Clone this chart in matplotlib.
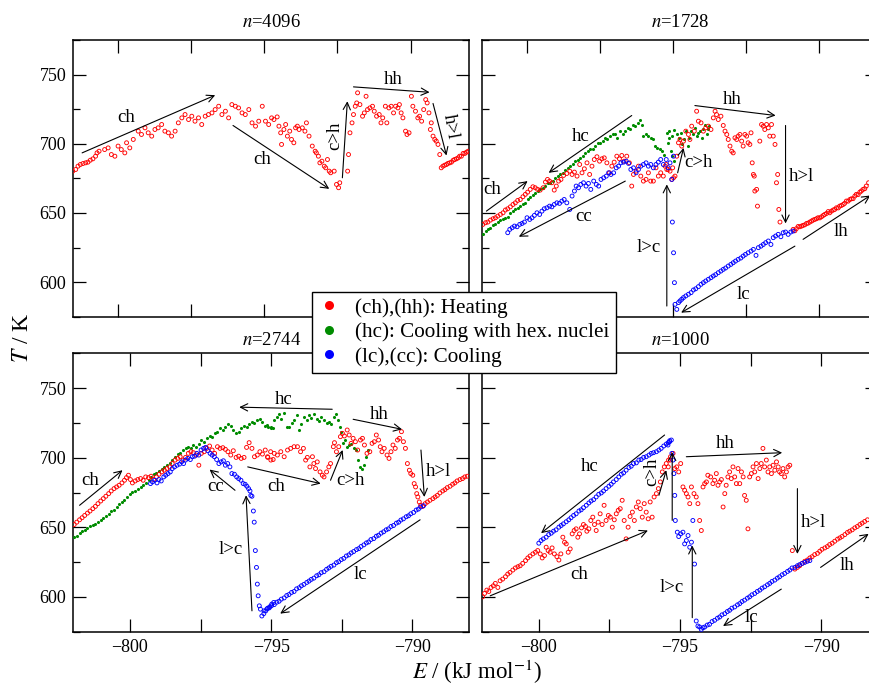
import numpy as np
import matplotlib
matplotlib.use("Agg")
import matplotlib.pyplot as plt
from matplotlib.lines import Line2D
from matplotlib.ticker import MultipleLocator, FuncFormatter

plt.rcParams["font.family"] = ["Liberation Serif", "DejaVu Serif"]
plt.rcParams["mathtext.fontset"] = "stix"
plt.rcParams["axes.linewidth"] = 1.1

RED, GREEN, BLUE = "#ff0000", "#008c00", "#0000ff"

# ---- n = 4096 : heating only (E in kJ/mol, T in K) ----
heat_4096 = [
    (-801.55, 680.2), (-801.45, 681.4), (-801.37, 683.8), (-801.29, 685.0), (-801.20, 685.7),
    (-801.11, 686.2), (-801.03, 686.7), (-800.95, 688.1), (-800.86, 689.1), (-800.77, 691.0),
    (-800.72, 693.4), (-800.65, 694.6), (-800.46, 695.8), (-800.34, 697.0), (-800.23, 692.2),
    (-800.11, 691.0), (-800.00, 698.3), (-799.89, 695.8), (-799.77, 693.4), (-799.71, 700.7),
    (-799.60, 697.0), (-799.48, 703.1), (-799.31, 709.1), (-799.20, 706.7), (-799.08, 711.5),
    (-798.97, 707.9), (-798.85, 705.5), (-798.74, 710.3), (-798.63, 711.5), (-798.51, 713.9),
    (-798.40, 709.1), (-798.28, 707.9), (-798.17, 705.5), (-798.05, 709.1), (-797.94, 715.1),
    (-797.82, 718.7), (-797.71, 721.1), (-797.59, 717.5), (-797.48, 719.9), (-797.37, 716.3),
    (-797.25, 718.7), (-797.14, 713.9), (-797.02, 719.9), (-796.91, 721.1), (-796.79, 722.3),
    (-796.68, 724.7), (-796.56, 727.1), (-796.45, 721.1), (-796.33, 723.5), (-796.22, 718.7),
    (-796.11, 728.3), (-795.99, 727.1), (-795.88, 725.9), (-795.76, 722.3), (-795.65, 721.1),
    (-795.53, 724.7), (-795.42, 715.1), (-795.30, 712.7), (-795.19, 716.3), (-795.07, 727.1),
    (-794.96, 716.3), (-794.85, 713.9), (-794.75, 718.7), (-794.67, 717.5), (-794.56, 719.4),
    (-794.50, 712.7), (-794.44, 707.9), (-794.41, 699.5), (-794.33, 710.3), (-794.27, 713.9),
    (-794.21, 705.5), (-794.13, 709.1), (-794.07, 703.1), (-793.99, 700.7), (-793.93, 711.5),
    (-793.87, 712.7), (-793.81, 710.3), (-793.70, 711.5), (-793.61, 709.1), (-793.56, 715.1),
    (-793.47, 705.5), (-793.36, 698.3), (-793.26, 694.6), (-793.22, 693.4), (-793.15, 691.0),
    (-793.10, 686.2), (-793.03, 687.4), (-792.95, 683.8), (-792.90, 682.6), (-792.84, 688.6),
    (-792.78, 680.2), (-792.73, 679.0), (-792.61, 680.2), (-792.53, 670.6), (-792.46, 668.2),
    (-792.42, 671.8), (-792.15, 680.2), (-792.12, 692.2), (-792.07, 707.9), (-792.00, 715.1),
    (-791.95, 721.1), (-791.89, 727.1), (-791.84, 729.5), (-791.81, 736.8), (-791.73, 728.3),
    (-791.64, 719.9), (-791.58, 722.3), (-791.52, 734.3), (-791.47, 724.7), (-791.39, 725.9),
    (-791.30, 727.1), (-791.24, 723.5), (-791.16, 719.9), (-791.07, 721.1), (-791.01, 715.1),
    (-790.95, 718.7), (-790.86, 727.1), (-790.81, 715.1), (-790.74, 725.9), (-790.66, 727.1),
    (-790.58, 722.3), (-790.51, 727.1), (-790.43, 725.9), (-790.38, 728.3), (-790.32, 722.3),
    (-790.26, 718.7), (-790.17, 709.1), (-790.12, 706.7), (-790.05, 707.9), (-789.97, 734.3),
    (-789.92, 727.1), (-789.83, 723.5), (-789.75, 718.7), (-789.69, 719.9), (-789.62, 716.3),
    (-789.55, 724.7), (-789.48, 731.9), (-789.43, 729.5), (-789.37, 722.3), (-789.32, 710.3),
    (-789.29, 715.1), (-789.23, 705.5), (-789.17, 703.1), (-789.12, 701.9), (-789.06, 699.5),
    (-789.00, 692.2), (-788.95, 682.6), (-788.89, 683.8), (-788.83, 684.5), (-788.77, 685.0),
    (-788.72, 685.8), (-788.66, 686.2), (-788.60, 686.7), (-788.54, 688.1), (-788.49, 688.6),
    (-788.43, 689.1), (-788.37, 689.8), (-788.32, 691.0), (-788.26, 691.0), (-788.20, 693.0),
    (-788.14, 693.0), (-788.09, 693.9), (-788.03, 694.6),
]

# ---- n = 1728 ----
heat_1728 = [
    (-801.51, 641.7), (-801.42, 642.9), (-801.34, 643.4), (-801.25, 644.8), (-801.16, 645.8),
    (-801.08, 646.5), (-801.00, 647.7), (-800.91, 648.9), (-800.82, 650.1), (-800.74, 652.1),
    (-800.66, 653.0), (-800.57, 654.4), (-800.48, 656.1), (-800.40, 657.3), (-800.32, 659.0),
    (-800.23, 659.7), (-800.14, 661.7), (-800.06, 663.4), (-799.98, 665.0), (-799.89, 667.0),
    (-799.80, 668.9), (-799.72, 668.2), (-799.64, 667.0), (-799.55, 666.5), (-799.45, 668.2),
    (-799.37, 672.3), (-799.30, 674.2), (-799.23, 673.0), (-799.15, 671.8), (-799.07, 666.5),
    (-799.00, 669.4), (-798.92, 673.0), (-798.84, 674.2), (-798.75, 677.1), (-798.64, 678.5),
    (-798.54, 680.2), (-798.46, 677.8), (-798.38, 679.5), (-798.29, 676.6), (-798.20, 685.0),
    (-798.12, 679.0), (-798.04, 681.9), (-797.95, 686.2), (-797.86, 677.8), (-797.78, 683.8),
    (-797.70, 688.6), (-797.61, 690.6), (-797.52, 687.4), (-797.44, 689.1), (-797.36, 689.8),
    (-797.27, 686.2), (-797.18, 679.0), (-797.10, 683.8), (-797.02, 686.7), (-796.93, 691.0),
    (-796.84, 689.1), (-796.76, 691.5), (-796.68, 687.4), (-796.59, 691.0), (-796.50, 686.2),
    (-796.42, 669.4), (-796.36, 677.8), (-796.27, 680.2), (-796.19, 683.8), (-796.11, 676.6),
    (-796.02, 673.0), (-795.93, 674.2), (-795.85, 679.0), (-795.77, 673.0), (-795.68, 673.0),
    (-795.59, 682.6), (-795.51, 676.6), (-795.43, 679.0), (-795.34, 676.6), (-795.24, 685.0),
    (-795.17, 681.4), (-795.11, 680.2), (-795.02, 682.6), (-795.28, 683.8), (-795.22, 681.4),
    (-795.05, 674.2), (-794.99, 675.4), (-794.94, 676.6), (-794.88, 691.0), (-794.82, 700.7),
    (-794.77, 703.1), (-794.71, 698.3), (-794.65, 701.9), (-794.57, 709.1), (-794.48, 706.7),
    (-794.43, 703.1), (-794.37, 712.7), (-794.28, 709.1), (-794.20, 723.5), (-794.14, 716.3),
    (-794.05, 715.1), (-793.97, 709.1), (-793.89, 711.5), (-793.80, 712.7), (-793.71, 710.3),
    (-793.63, 718.7), (-793.57, 723.5), (-793.52, 721.1), (-793.46, 717.5), (-793.37, 719.9),
    (-793.29, 713.2), (-793.23, 709.1), (-793.17, 706.7), (-793.12, 703.1), (-793.06, 698.3),
    (-793.00, 694.6), (-792.95, 693.4), (-792.89, 704.3), (-792.83, 703.1), (-792.78, 705.5),
    (-792.72, 706.7), (-792.66, 701.9), (-792.61, 698.3), (-792.55, 706.7), (-792.49, 705.5),
    (-792.44, 700.7), (-792.38, 699.5), (-792.34, 707.9), (-792.30, 686.2), (-792.26, 677.8),
    (-792.23, 676.6), (-792.21, 665.8), (-792.15, 667.0), (-792.12, 654.9), (-792.04, 701.9),
    (-791.98, 713.9), (-791.92, 712.7), (-791.87, 710.3), (-791.81, 713.9), (-791.75, 711.5),
    (-791.70, 705.5), (-791.64, 713.9), (-791.58, 705.5), (-791.52, 699.5), (-791.47, 671.8),
    (-791.43, 677.8), (-791.39, 652.5), (-791.35, 643.4),
    (-790.90, 638.1), (-790.84, 637.1), (-790.79, 638.6), (-790.73, 640.2), (-790.67, 640.0),
    (-790.61, 640.5), (-790.56, 641.0), (-790.50, 641.4), (-790.44, 642.4), (-790.39, 642.6),
    (-790.33, 643.4), (-790.27, 644.1), (-790.22, 644.8), (-790.16, 645.3), (-790.10, 645.8),
    (-790.05, 646.5), (-789.99, 646.4), (-789.93, 647.2), (-789.87, 648.2), (-789.82, 648.9),
    (-789.76, 649.6), (-789.70, 651.0), (-789.65, 650.1), (-789.59, 651.3), (-789.53, 652.1),
    (-789.48, 652.5), (-789.42, 653.7), (-789.36, 653.6), (-789.31, 654.9), (-789.25, 655.4),
    (-789.19, 656.1), (-789.14, 656.9), (-789.08, 658.6), (-789.02, 658.5), (-788.96, 659.7),
    (-788.91, 660.2), (-788.85, 660.3), (-788.79, 662.2), (-788.74, 663.4), (-788.68, 663.2),
    (-788.62, 665.0), (-788.57, 665.8), (-788.51, 667.0), (-788.45, 667.5), (-788.40, 669.4),
    (-788.32, 671.8),
]

hexcool_1728 = [
    (-801.51, 634.5), (-801.42, 636.9), (-801.34, 638.1), (-801.25, 639.3), (-801.16, 641.0),
    (-801.08, 641.7), (-801.00, 643.4), (-800.91, 644.8), (-800.82, 645.3), (-800.74, 646.5),
    (-800.66, 647.2), (-800.57, 650.1), (-800.48, 651.3), (-800.40, 652.5), (-800.32, 653.7),
    (-800.23, 654.9), (-800.14, 656.1), (-800.06, 657.3), (-799.98, 659.7), (-799.89, 661.7),
    (-799.80, 662.6), (-799.72, 664.6), (-799.64, 665.8), (-799.55, 667.0), (-799.45, 668.2),
    (-799.37, 669.4), (-799.30, 671.3), (-799.20, 671.8), (-799.11, 673.0), (-799.03, 675.4),
    (-798.95, 676.6), (-798.86, 677.8), (-798.77, 679.0), (-798.69, 680.9), (-798.61, 682.6),
    (-798.52, 683.8), (-798.43, 685.0), (-798.35, 687.4), (-798.27, 688.6), (-798.18, 689.8),
    (-798.09, 691.0), (-798.01, 693.0), (-797.93, 694.6), (-797.84, 695.9), (-797.75, 696.3),
    (-797.67, 698.3), (-797.59, 700.2), (-797.50, 700.7), (-797.41, 701.9), (-797.33, 704.3),
    (-797.25, 703.1), (-797.16, 705.5), (-797.07, 707.4), (-796.99, 706.7), (-796.91, 704.3),
    (-796.81, 709.1), (-796.72, 706.7), (-796.64, 709.1), (-796.56, 711.5), (-796.47, 710.3),
    (-796.38, 713.9), (-796.30, 712.7), (-796.22, 715.1), (-796.13, 717.0), (-796.08, 713.9),
    (-796.02, 705.5), (-795.93, 706.7), (-795.85, 705.5), (-795.77, 704.3), (-795.68, 703.1),
    (-795.62, 698.3), (-795.54, 697.1), (-795.47, 695.9), (-795.39, 694.6), (-795.31, 692.2),
    (-795.22, 707.9), (-795.13, 709.1), (-795.05, 705.5), (-794.97, 709.8), (-795.19, 700.7),
    (-795.14, 704.3), (-795.07, 694.6), (-795.03, 691.0), (-794.96, 687.4), (-794.88, 706.7),
    (-794.82, 704.3), (-794.73, 707.9), (-794.69, 699.5), (-794.62, 703.1), (-794.57, 709.1),
    (-794.50, 698.3), (-794.46, 704.3), (-794.39, 709.1), (-794.31, 706.7), (-794.26, 711.5),
    (-794.20, 705.5), (-794.14, 707.9), (-794.08, 709.1), (-794.03, 704.3), (-793.97, 710.3),
    (-793.91, 713.9), (-793.86, 706.7), (-793.80, 710.3), (-793.78, 712.7),
]

cool_1728 = [
    (-800.66, 635.7), (-800.59, 638.1), (-800.51, 639.3), (-800.43, 640.5), (-800.34, 640.0),
    (-800.25, 641.7), (-800.17, 642.4), (-800.09, 643.4), (-800.00, 646.5), (-799.91, 645.3),
    (-799.83, 646.5), (-799.75, 648.2), (-799.66, 650.1), (-799.57, 648.9), (-799.49, 651.3),
    (-799.41, 653.0), (-799.32, 653.7), (-799.23, 654.9), (-799.15, 654.4), (-799.07, 656.1),
    (-798.98, 657.3), (-798.89, 656.9), (-798.81, 658.5), (-798.73, 659.7), (-798.64, 657.3),
    (-798.54, 652.5), (-798.46, 662.2), (-798.38, 665.8), (-798.32, 669.4), (-798.24, 668.2),
    (-798.16, 670.6), (-798.07, 671.8), (-797.98, 669.4), (-797.90, 671.3), (-797.82, 667.0),
    (-797.72, 673.0), (-797.63, 670.6), (-797.55, 669.4), (-797.47, 674.2), (-797.38, 675.4),
    (-797.29, 676.6), (-797.21, 679.0), (-797.13, 677.8), (-797.04, 679.0), (-796.95, 682.6),
    (-796.87, 683.8), (-796.79, 686.2), (-796.70, 686.7), (-796.61, 687.4), (-796.53, 685.8),
    (-796.45, 681.4), (-796.36, 682.6), (-796.27, 679.0), (-796.19, 681.4), (-796.11, 683.8),
    (-796.02, 685.0), (-795.93, 686.2), (-795.85, 683.8), (-795.77, 685.0), (-795.68, 682.6),
    (-795.59, 685.0), (-795.51, 686.7), (-795.43, 688.6), (-795.34, 685.0), (-795.24, 688.6),
    (-795.17, 682.6), (-795.11, 686.2), (-795.05, 674.2), (-794.99, 691.0),
    (-795.03, 643.4), (-794.99, 621.2), (-794.96, 599.6),
    (-794.94, 583.9), (-794.88, 580.3), (-794.82, 585.2), (-794.77, 586.4), (-794.71, 587.6),
    (-794.65, 588.8), (-794.57, 590.0), (-794.48, 591.2), (-794.39, 592.4), (-794.31, 594.3),
    (-794.23, 595.2), (-794.14, 596.7), (-794.05, 598.4), (-793.97, 599.6), (-793.89, 600.8),
    (-793.80, 602.0), (-793.71, 603.2), (-793.63, 604.4), (-793.55, 605.4), (-793.46, 606.8),
    (-793.37, 608.0), (-793.29, 609.2), (-793.21, 610.2), (-793.12, 611.6), (-793.03, 612.8),
    (-792.95, 614.0), (-792.87, 615.2), (-792.78, 616.4), (-792.69, 617.4), (-792.61, 618.8),
    (-792.53, 620.0), (-792.44, 621.2), (-792.34, 622.4), (-792.26, 623.6), (-792.17, 619.3),
    (-792.09, 624.9), (-792.00, 626.0), (-791.92, 627.2), (-791.84, 628.5), (-791.75, 629.7),
    (-791.66, 627.2), (-791.58, 632.1), (-791.50, 633.3), (-791.41, 634.5), (-791.32, 632.8),
    (-791.24, 635.7), (-791.16, 636.2), (-791.07, 634.5), (-790.98, 636.2), (-790.90, 636.9),
]

# ---- n = 2744 ----
heat_2744 = [
    (-801.97, 652.0), (-801.88, 653.7), (-801.78, 655.4), (-801.69, 656.9), (-801.60, 658.5),
    (-801.50, 660.2), (-801.41, 661.7), (-801.31, 663.4), (-801.22, 665.0), (-801.13, 667.0),
    (-801.03, 668.9), (-800.94, 670.6), (-800.85, 672.3), (-800.75, 674.2), (-800.66, 676.1),
    (-800.56, 677.8), (-800.47, 679.0), (-800.38, 680.2), (-800.28, 681.9), (-800.19, 683.8),
    (-800.12, 685.7), (-800.05, 687.4), (-799.98, 684.3), (-799.91, 681.9), (-799.81, 683.3),
    (-799.72, 684.3), (-799.62, 685.0), (-799.53, 683.8), (-799.44, 686.2), (-799.34, 685.7),
    (-799.25, 686.7), (-799.16, 684.3), (-799.06, 686.2), (-798.97, 688.1), (-798.87, 689.8),
    (-798.78, 691.0), (-798.69, 692.2), (-798.59, 693.4), (-798.50, 695.8), (-798.40, 698.3),
    (-798.31, 699.5), (-798.22, 700.7), (-798.12, 698.3), (-798.03, 700.2), (-797.93, 703.1),
    (-797.84, 704.3), (-797.75, 703.6), (-797.65, 701.9), (-797.56, 694.6), (-797.47, 703.1),
    (-797.37, 704.3), (-797.28, 706.7), (-797.18, 708.4), (-797.09, 705.5), (-797.00, 703.1),
    (-796.90, 707.9), (-796.81, 706.7), (-796.71, 707.2), (-796.62, 706.0), (-796.53, 704.3),
    (-796.43, 701.9), (-796.34, 705.0), (-796.24, 700.2), (-796.15, 701.1), (-796.06, 699.5),
    (-795.96, 700.2), (-795.87, 707.4), (-795.78, 710.8), (-795.68, 706.7), (-795.59, 700.7),
    (-795.49, 701.9), (-795.40, 704.3), (-795.31, 702.6), (-795.21, 705.5), (-795.12, 700.2),
    (-795.02, 704.3), (-794.93, 698.7),
    (-795.13, 700.7), (-795.01, 698.3), (-794.89, 703.1), (-794.78, 701.9), (-794.66, 704.3),
    (-794.54, 700.7), (-794.42, 705.5), (-794.31, 706.7), (-794.19, 707.9), (-794.07, 707.9),
    (-793.96, 704.3), (-793.86, 706.7), (-793.78, 698.3), (-793.72, 700.2), (-793.63, 693.4),
    (-793.54, 700.7), (-793.49, 695.8), (-793.43, 692.2), (-793.37, 697.0), (-793.27, 689.8),
    (-793.19, 687.4), (-793.13, 686.2), (-793.04, 689.8), (-792.96, 693.4), (-792.90, 695.8),
    (-792.80, 707.9), (-792.76, 710.8), (-792.69, 704.3), (-792.61, 707.9), (-792.55, 715.1),
    (-792.48, 717.5), (-792.41, 715.6), (-792.31, 719.9), (-792.24, 716.3), (-792.17, 710.3),
    (-792.10, 713.9), (-792.02, 711.5), (-791.94, 705.5), (-791.84, 712.7), (-791.77, 713.9),
    (-791.70, 709.1), (-791.61, 703.1), (-791.51, 704.3), (-791.43, 710.3), (-791.35, 711.5),
    (-791.28, 716.3), (-791.20, 712.7), (-791.14, 707.9), (-791.08, 704.3), (-791.00, 706.7),
    (-790.90, 701.9), (-790.83, 699.5), (-790.76, 704.3), (-790.69, 709.1), (-790.61, 706.7),
    (-790.53, 712.7), (-790.46, 713.9), (-790.39, 718.7), (-790.32, 711.5), (-790.25, 706.7),
    (-790.18, 695.8), (-790.11, 691.0), (-790.06, 688.6), (-789.99, 687.4), (-789.94, 681.4),
    (-789.89, 679.0), (-789.85, 674.2), (-789.81, 671.8), (-789.76, 668.2), (-789.71, 665.8),
    (-789.64, 665.0), (-789.55, 667.0), (-789.47, 668.2), (-789.38, 669.4), (-789.28, 670.6),
    (-789.20, 671.8), (-789.12, 672.9), (-789.03, 674.7), (-788.93, 676.1), (-788.85, 677.1),
    (-788.77, 678.5), (-788.67, 679.5), (-788.58, 680.9), (-788.50, 681.9), (-788.42, 683.3),
    (-788.32, 684.3), (-788.23, 685.0), (-788.15, 686.2), (-788.06, 686.7),
]

hexcool_2744 = [
    (-801.97, 642.9), (-801.88, 644.1), (-801.78, 645.8), (-801.69, 647.2), (-801.60, 648.2),
    (-801.50, 649.6), (-801.41, 650.6), (-801.31, 652.0), (-801.22, 652.5), (-801.13, 653.7),
    (-801.03, 655.4), (-800.94, 656.9), (-800.85, 657.8), (-800.75, 659.7), (-800.66, 661.7),
    (-800.56, 662.6), (-800.47, 664.6), (-800.38, 666.5), (-800.28, 668.2), (-800.19, 669.9),
    (-800.09, 671.8), (-800.00, 673.7), (-799.91, 675.4), (-799.81, 676.1), (-799.72, 677.8),
    (-799.62, 679.0), (-799.53, 680.2), (-799.44, 681.9), (-799.34, 683.8), (-799.25, 686.2),
    (-799.16, 688.1), (-799.06, 689.1), (-798.97, 690.6), (-798.87, 692.2), (-798.78, 693.4),
    (-798.69, 694.6), (-798.59, 696.3), (-798.50, 698.3), (-798.40, 700.7), (-798.31, 702.6),
    (-798.22, 703.6), (-798.12, 705.5), (-798.03, 706.7), (-797.93, 707.9), (-797.84, 706.7),
    (-797.75, 709.1), (-797.65, 707.4), (-797.56, 709.8), (-797.47, 712.7), (-797.37, 711.5),
    (-797.28, 713.9), (-797.18, 715.6), (-797.09, 714.6), (-797.00, 717.5), (-796.90, 718.7),
    (-796.81, 721.1), (-796.71, 719.9), (-796.62, 722.3), (-796.53, 724.2), (-796.43, 722.8),
    (-796.34, 719.9), (-796.24, 717.5), (-796.15, 718.7), (-796.06, 721.1), (-795.96, 722.8),
    (-795.87, 722.3), (-795.78, 724.2), (-795.68, 725.9), (-795.59, 724.7), (-795.49, 727.1),
    (-795.40, 727.6), (-795.31, 725.9), (-795.21, 722.8), (-795.12, 721.8), (-795.02, 722.3),
    (-794.93, 721.1),
    (-795.13, 723.5), (-795.01, 721.1), (-794.89, 727.1), (-794.80, 729.5), (-794.71, 731.5),
    (-794.64, 728.1), (-794.54, 732.0), (-794.45, 722.3), (-794.37, 721.8), (-794.28, 724.7),
    (-794.19, 727.1), (-794.10, 730.7), (-794.01, 719.9), (-793.93, 724.2), (-793.84, 729.5),
    (-793.74, 727.1), (-793.66, 730.7), (-793.58, 728.3), (-793.49, 731.5), (-793.39, 727.6),
    (-793.31, 726.7), (-793.23, 729.5), (-793.13, 727.1), (-793.04, 724.7), (-792.96, 725.9),
    (-792.88, 724.2), (-792.78, 729.5), (-792.69, 731.5), (-792.64, 727.1), (-792.57, 722.3),
    (-792.52, 718.7), (-792.45, 710.3), (-792.38, 712.7), (-792.31, 707.9), (-792.24, 709.1),
    (-792.17, 709.8), (-792.08, 706.7), (-792.01, 705.5), (-791.94, 698.7), (-791.87, 693.4),
    (-791.80, 692.2), (-791.72, 694.6), (-791.65, 700.7), (-791.58, 705.5),
]

cool_2744 = [
    (-799.27, 681.4), (-799.20, 682.6), (-799.12, 683.8), (-799.04, 681.9), (-798.97, 684.3),
    (-798.89, 683.3), (-798.80, 686.2), (-798.73, 687.4), (-798.65, 688.6), (-798.57, 689.8),
    (-798.50, 692.2), (-798.42, 693.4), (-798.33, 694.6), (-798.24, 695.4), (-798.17, 697.0),
    (-798.10, 695.8), (-798.03, 698.3), (-797.95, 699.5), (-797.86, 698.7), (-797.79, 700.7),
    (-797.71, 701.1), (-797.63, 703.1), (-797.56, 701.9), (-797.48, 705.5), (-797.39, 706.7),
    (-797.32, 707.4), (-797.24, 705.0), (-797.16, 703.1), (-797.09, 701.9), (-797.01, 700.7),
    (-796.93, 698.7), (-796.85, 695.8), (-796.77, 697.0), (-796.69, 697.8), (-796.62, 694.6),
    (-796.54, 695.8), (-796.46, 693.4), (-796.39, 688.6), (-796.30, 688.1), (-796.22, 686.2),
    (-796.15, 685.0), (-796.07, 683.8), (-795.99, 681.4), (-795.92, 680.9), (-795.86, 679.5),
    (-795.80, 677.8), (-795.75, 676.1), (-795.72, 672.9), (-795.68, 672.3), (-795.63, 661.7),
    (-795.60, 653.7), (-795.56, 633.3), (-795.52, 621.2), (-795.49, 609.2), (-795.46, 600.8),
    (-795.42, 593.6), (-795.38, 591.2), (-795.33, 586.3), (-795.26, 588.0), (-795.19, 590.0),
    (-795.12, 591.9), (-795.05, 592.9), (-794.98, 594.8), (-794.91, 596.0),
    (-795.25, 590.0), (-795.15, 591.4), (-795.07, 592.1), (-794.99, 593.6), (-794.89, 594.5),
    (-794.80, 596.2), (-794.72, 596.9), (-794.64, 598.4), (-794.54, 599.3), (-794.45, 601.0),
    (-794.37, 601.7), (-794.28, 603.2), (-794.19, 603.9), (-794.10, 605.8), (-794.01, 606.6),
    (-793.93, 608.0), (-793.84, 609.0), (-793.74, 610.4), (-793.66, 611.4), (-793.58, 612.6),
    (-793.49, 613.5), (-793.39, 615.2), (-793.31, 615.9), (-793.23, 617.4), (-793.13, 618.1),
    (-793.04, 619.8), (-792.96, 620.8), (-792.88, 622.0), (-792.78, 622.9), (-792.69, 624.6),
    (-792.61, 625.3), (-792.52, 626.8), (-792.43, 627.7), (-792.34, 629.4), (-792.25, 630.2),
    (-792.17, 631.6), (-792.08, 632.6), (-791.98, 634.0), (-791.90, 634.7), (-791.82, 636.2),
    (-791.72, 637.4), (-791.63, 638.8), (-791.55, 639.5), (-791.47, 641.2), (-791.37, 641.9),
    (-791.28, 643.6), (-791.20, 644.3), (-791.11, 645.8), (-791.02, 646.8), (-790.93, 648.2),
    (-790.85, 648.9), (-790.76, 650.6), (-790.67, 651.3), (-790.57, 653.0), (-790.49, 653.7),
    (-790.41, 655.2), (-790.32, 656.1), (-790.22, 657.6), (-790.14, 658.3), (-790.06, 659.7),
    (-789.96, 660.7), (-789.87, 662.4), (-789.79, 663.1), (-789.71, 664.6), (-789.61, 665.5),
]

# ---- n = 1000 : no hexagonal-nuclei branch ----
heat_1000 = [
    (-801.99, 600.1), (-801.92, 602.5), (-801.84, 604.9), (-801.77, 603.9), (-801.69, 606.8),
    (-801.61, 608.0), (-801.54, 609.7), (-801.45, 606.8), (-801.37, 611.6), (-801.28, 612.8),
    (-801.18, 614.5), (-801.10, 616.4), (-801.02, 617.6), (-800.92, 619.3), (-800.83, 620.8),
    (-800.74, 621.7), (-800.66, 622.4), (-800.57, 624.1), (-800.47, 626.1), (-800.39, 628.0),
    (-800.31, 629.4), (-800.21, 630.9), (-800.12, 632.1), (-800.04, 633.3), (-799.95, 630.9),
    (-799.88, 628.0), (-799.80, 629.7), (-799.74, 635.7), (-799.67, 633.3), (-799.60, 632.1),
    (-799.53, 635.2), (-799.45, 630.9), (-799.36, 628.9), (-799.29, 626.5), (-799.22, 630.9),
    (-799.15, 642.9), (-799.09, 639.3), (-799.03, 638.1), (-798.96, 632.1), (-798.89, 634.5),
    (-798.82, 645.3), (-798.75, 647.7), (-798.68, 648.9), (-798.62, 642.9), (-798.56, 645.3),
    (-798.49, 649.6), (-798.42, 652.0), (-798.35, 650.6), (-798.30, 647.2), (-798.23, 648.9),
    (-798.16, 654.9), (-798.09, 657.3), (-798.03, 652.0), (-797.97, 647.7), (-797.90, 653.7),
    (-797.83, 659.7), (-797.76, 652.0), (-797.69, 665.8), (-797.62, 654.9), (-797.54, 658.5),
    (-797.47, 657.3), (-797.40, 650.1), (-797.33, 655.4), (-797.26, 659.7), (-797.19, 662.2),
    (-797.12, 663.4), (-797.05, 669.4), (-796.98, 654.9), (-796.91, 641.7), (-796.84, 650.1),
    (-796.77, 657.8), (-796.69, 660.9), (-796.62, 654.9), (-796.55, 664.6), (-796.48, 668.2),
    (-796.41, 663.4), (-796.34, 657.3), (-796.27, 667.0), (-796.20, 660.9), (-796.13, 656.1),
    (-796.06, 668.2), (-795.99, 657.3), (-795.92, 671.8), (-795.84, 674.2), (-795.77, 677.8),
    (-795.70, 682.6), (-795.63, 689.8), (-795.56, 693.4), (-795.49, 695.8), (-795.42, 693.4),
    (-795.35, 698.3), (-795.41, 698.3), (-795.34, 700.7), (-795.25, 703.1), (-795.19, 692.2),
    (-795.12, 693.4), (-795.05, 689.8), (-794.98, 695.8), (-794.90, 679.0), (-794.84, 676.6),
    (-794.78, 674.2), (-794.72, 671.8), (-794.66, 667.0), (-794.60, 679.0), (-794.51, 674.2),
    (-794.43, 671.8), (-794.37, 667.0), (-794.31, 654.9), (-794.25, 647.7), (-794.19, 679.0),
    (-794.13, 681.4), (-794.07, 682.6), (-794.02, 687.4), (-793.92, 686.2), (-793.84, 681.4),
    (-793.78, 683.8), (-793.72, 688.6), (-793.66, 680.2), (-793.60, 682.6), (-793.54, 684.3),
    (-793.48, 664.6), (-793.42, 674.2), (-793.37, 680.2), (-793.31, 686.2), (-793.25, 689.8),
    (-793.19, 685.0), (-793.13, 693.4), (-793.07, 686.2), (-793.01, 681.4), (-792.95, 692.2),
    (-792.89, 681.4), (-792.83, 689.8), (-792.77, 686.2), (-792.72, 672.9), (-792.66, 669.4),
    (-792.60, 648.9), (-792.54, 686.2), (-792.48, 688.6), (-792.42, 693.4), (-792.36, 689.8),
    (-792.30, 695.8), (-792.24, 685.0), (-792.18, 692.2), (-792.13, 695.8), (-792.07, 706.7),
    (-792.01, 693.4), (-791.95, 698.3), (-791.89, 689.8), (-791.83, 693.4), (-791.77, 688.6),
    (-791.71, 694.6), (-791.65, 691.0), (-791.59, 697.0), (-791.53, 693.4), (-791.48, 689.8),
    (-791.42, 688.6), (-791.36, 692.2), (-791.30, 686.2), (-791.24, 689.8), (-791.18, 693.4),
    (-791.12, 694.6), (-791.03, 633.3),
    (-790.94, 620.0), (-790.85, 621.2), (-790.77, 622.4), (-790.68, 624.1), (-790.59, 625.6),
    (-790.50, 626.5), (-790.41, 628.0), (-790.33, 628.9), (-790.24, 630.4), (-790.14, 631.3),
    (-790.06, 632.8), (-789.98, 634.2), (-789.88, 635.2), (-789.79, 636.2), (-789.71, 637.6),
    (-789.62, 638.6), (-789.53, 640.0), (-789.43, 641.5), (-789.35, 642.4), (-789.27, 643.4),
    (-789.17, 644.8), (-789.08, 646.3), (-789.00, 647.2), (-788.91, 648.2), (-788.82, 649.6),
    (-788.73, 650.6), (-788.64, 652.0), (-788.56, 653.0), (-788.47, 654.2), (-788.37, 655.4),
]

cool_1000 = [
    (-800.00, 638.6), (-799.92, 640.5), (-799.84, 641.7), (-799.74, 642.9), (-799.65, 644.8),
    (-799.56, 645.8), (-799.48, 647.2), (-799.39, 648.2), (-799.29, 650.1), (-799.21, 651.3),
    (-799.13, 652.5), (-799.03, 654.0), (-798.94, 655.4), (-798.86, 656.9), (-798.77, 658.5),
    (-798.68, 659.7), (-798.58, 661.7), (-798.50, 662.6), (-798.42, 664.1), (-798.32, 665.8),
    (-798.23, 667.5), (-798.15, 668.9), (-798.06, 669.9), (-797.97, 671.8), (-797.88, 673.7),
    (-797.79, 674.7), (-797.71, 676.1), (-797.62, 677.8), (-797.52, 679.5), (-797.44, 680.9),
    (-797.36, 682.6), (-797.26, 684.3), (-797.17, 686.2), (-797.08, 688.1), (-797.00, 689.1),
    (-796.91, 691.0), (-796.81, 693.0), (-796.73, 693.9), (-796.65, 695.8), (-796.55, 696.3),
    (-796.46, 698.3), (-796.38, 698.7), (-796.29, 700.2), (-796.20, 700.7), (-796.10, 701.9),
    (-796.02, 703.1), (-795.94, 703.6), (-795.84, 704.3), (-795.75, 705.5), (-795.67, 706.7),
    (-795.58, 708.4), (-795.49, 709.8), (-795.42, 710.8), (-795.37, 712.2), (-795.43, 709.1),
    (-795.37, 711.5), (-795.31, 712.7), (-795.29, 703.1), (-795.25, 698.3), (-795.22, 688.6),
    (-795.19, 672.9), (-795.17, 654.9), (-795.10, 646.5), (-795.05, 643.4), (-794.98, 645.3),
    (-794.90, 646.5), (-794.84, 638.1), (-794.78, 640.5), (-794.72, 644.1), (-794.66, 635.7),
    (-794.60, 639.3), (-794.55, 654.9), (-794.49, 623.6), (-794.43, 582.7), (-794.37, 579.1),
    (-794.31, 578.4), (-794.25, 576.7), (-794.19, 577.9), (-794.13, 578.4),
    (-794.04, 579.8), (-793.96, 580.3), (-793.87, 582.3), (-793.78, 583.2), (-793.68, 584.7),
    (-793.60, 585.6), (-793.52, 587.1), (-793.42, 588.0), (-793.33, 589.5), (-793.25, 590.4),
    (-793.17, 591.9), (-793.07, 592.8), (-792.97, 594.3), (-792.89, 595.2), (-792.81, 596.7),
    (-792.72, 597.7), (-792.62, 599.1), (-792.54, 600.1), (-792.46, 601.5), (-792.36, 602.5),
    (-792.27, 603.9), (-792.18, 604.9), (-792.10, 606.3), (-792.01, 607.3), (-791.91, 608.7),
    (-791.83, 609.7), (-791.75, 611.1), (-791.65, 612.1), (-791.56, 613.5), (-791.48, 614.5),
    (-791.39, 615.9), (-791.30, 616.9), (-791.20, 618.3), (-791.12, 619.3), (-791.04, 620.8),
    (-790.94, 621.2), (-790.85, 622.4), (-790.77, 623.2), (-790.68, 624.1), (-790.59, 624.8),
    (-790.50, 625.6), (-790.41, 626.1),
]

# arrows (start E, start T, end E, end T) and labels (text, E, T, rotation)
arrows_4096 = [
    (-801.23, 693.4, -796.68, 735.1), (-796.07, 713.2, -792.78, 667.4),
    (-792.33, 675.4, -792.16, 730.7), (-791.95, 741.1, -789.35, 737.2),
    (-789.23, 729.1, -788.77, 691.5),
]
labels_4096 = [
    ("ch", -799.71, 718.7, 0), ("ch", -795.07, 688.6, 0), ("c>h", -792.58, 705.5, 90),
    ("hh", -790.60, 746.4, 0), ("h>l", -788.62, 712.0, -80),
]
arrows_1728 = [
    (-801.39, 651.3, -799.98, 673.0), (-796.42, 720.4, -799.26, 679.0),
    (-796.64, 673.0, -800.28, 632.8), (-795.22, 582.7, -795.22, 670.6),
    (-794.85, 679.0, -794.65, 697.0), (-794.26, 727.6, -791.50, 720.4),
    (-791.16, 713.2, -791.16, 642.4), (-790.56, 630.9, -788.26, 662.6),
    (-790.84, 626.0, -794.73, 577.9),
]
labels_1728 = [
    ("ch", -801.20, 667.0, 0), ("hc", -798.18, 705.5, 0), ("cc", -798.07, 647.7, 0),
    ("l>c", -795.85, 624.8, 0), ("c>h", -794.14, 686.2, 0), ("hh", -793.00, 732.0, 0),
    ("h>l", -790.61, 676.6, 0), ("lh", -789.25, 636.9, 0), ("lc", -792.60, 591.0, 0),
]
arrows_2744 = [
    (-801.78, 665.8, -800.26, 691.0), (-792.84, 734.8, -796.13, 736.3),
    (-796.28, 676.6, -797.18, 691.5), (-795.83, 693.4, -793.25, 681.4),
    (-792.90, 683.8, -792.47, 705.5), (-792.10, 727.6, -790.37, 720.4),
    (-789.70, 705.5, -789.58, 671.8), (-789.73, 655.4, -794.68, 588.0),
    (-795.68, 590.0, -795.89, 673.0),
]
labels_2744 = [
    ("ch", -801.41, 683.8, 0), ("hc", -794.57, 742.0, 0), ("cc", -796.95, 679.0, 0),
    ("ch", -794.84, 679.0, 0), ("c>h", -792.18, 683.8, 0), ("hh", -791.19, 730.7, 0),
    ("h>l", -789.10, 689.8, 0), ("lc", -791.85, 616.4, 0), ("l>c", -796.42, 633.8, 0),
]
arrows_1000 = [
    (-801.72, 600.8, -796.14, 647.7), (-795.55, 716.3, -799.92, 645.8),
    (-795.75, 673.0, -795.49, 691.0), (-795.28, 655.0, -795.28, 704.0),
    (-794.57, 585.1, -794.57, 636.9), (-794.78, 700.7, -791.39, 703.6),
    (-790.85, 677.8, -790.85, 630.9), (-791.42, 605.6, -793.48, 579.1),
    (-790.03, 621.2, -788.33, 645.3),
]
labels_1000 = [
    ("ch", -798.56, 616.0, 0), ("hc", -798.20, 693.4, 0), ("c>h", -795.99, 689.8, 90),
    ("l>c", -795.30, 606.8, 0), ("hh", -793.42, 710.3, 0), ("h>l", -790.30, 653.7, 0),
    ("lc", -792.48, 585.1, 0), ("lh", -789.11, 622.4, 0),
]

legend_labels = ["(ch),(hh): Heating", "(hc): Cooling with hex. nuclei", "(lc),(cc): Cooling"]


def open_points(ax, pts, color):
    p = np.array(pts)
    ax.scatter(p[:, 0], p[:, 1], s=8, facecolors="none", edgecolors=color,
               linewidths=0.65, zorder=3)


def dot_points(ax, pts, color):
    p = np.array(pts)
    ax.scatter(p[:, 0], p[:, 1], s=5, color=color, linewidths=0, zorder=3)


def tick_label(v, pos):
    if abs(v / 5 - round(v / 5)) > 1e-6:
        return ""
    return f"{v:.0f}".replace("-", "\u2212")


def setup(ax, xlim, title, pad, xlabels, ylabels):
    ax.set_xlim(*xlim)
    ax.set_ylim(575, 775)
    ax.xaxis.set_major_locator(MultipleLocator(2.5))
    ax.xaxis.set_major_formatter(FuncFormatter(tick_label))
    ax.yaxis.set_major_locator(MultipleLocator(50))
    ax.yaxis.set_minor_locator(MultipleLocator(25))
    ax.tick_params(which="both", direction="in", top=True, right=True, width=0.9,
                   labelsize=13, pad=5, labelbottom=xlabels, labelleft=ylabels)
    ax.tick_params(which="major", length=9.5)
    ax.tick_params(which="minor", length=5.3)
    ax.set_title(title, fontsize=13.5, pad=pad)


def notes(ax, arrows, labels):
    for x0, y0, x1, y1 in arrows:
        ax.annotate("", xy=(x1, y1), xytext=(x0, y0),
                    arrowprops=dict(arrowstyle="->", color="black", lw=0.8,
                                    shrinkA=0, shrinkB=0, mutation_scale=13))
    for txt, x, y, rot in labels:
        ax.text(x, y, txt, fontsize=13.5, rotation=rot, ha="center", va="center", zorder=5)


fig = plt.figure(figsize=(8.69, 6.88), dpi=100)
ax_tl = fig.add_axes([0.0844, 0.5397, 0.4553, 0.4022])
ax_tr = fig.add_axes([0.5550, 0.5397, 0.4553, 0.4022])
ax_bl = fig.add_axes([0.0844, 0.0818, 0.4553, 0.4047])
ax_br = fig.add_axes([0.5550, 0.0818, 0.4553, 0.4047])

top_x = (-801.53, -788.0)
bottom_x = (-802.0, -788.0)

open_points(ax_tl, heat_4096, RED)
setup(ax_tl, top_x, "$n$=4096", 9.5, False, True)
notes(ax_tl, arrows_4096, labels_4096)

dot_points(ax_tr, hexcool_1728, GREEN)
open_points(ax_tr, heat_1728, RED)
open_points(ax_tr, cool_1728, BLUE)
setup(ax_tr, top_x, "$n$=1728", 9.5, False, False)
notes(ax_tr, arrows_1728, labels_1728)

dot_points(ax_bl, hexcool_2744, GREEN)
open_points(ax_bl, heat_2744, RED)
open_points(ax_bl, cool_2744, BLUE)
setup(ax_bl, bottom_x, "$n$=2744", 6, True, True)
notes(ax_bl, arrows_2744, labels_2744)

open_points(ax_br, heat_1000, RED)
open_points(ax_br, cool_1000, BLUE)
setup(ax_br, bottom_x, "$n$=1000", 6, True, False)
notes(ax_br, arrows_1000, labels_1000)

handles = [Line2D([], [], ls="", marker="o", markersize=6.5, color=c, markeredgewidth=0)
           for c in (RED, GREEN, BLUE)]
leg = fig.legend(handles, legend_labels, loc="upper left",
                 bbox_to_anchor=(311.7 / 869, 1 - 291.7 / 688), borderaxespad=0,
                 fontsize=15.2, frameon=True, fancybox=False, framealpha=1,
                 edgecolor="black", borderpad=0.3, labelspacing=0.22,
                 handlelength=1.0, handletextpad=0.75)
leg.get_frame().set_linewidth(1.0)

fig.text(22 / 869, 1 - 338 / 688, "$T$ / K", rotation=90, fontsize=17,
         ha="center", va="center")
fig.text(477 / 869, 1 - 672 / 688, "$E$ / (kJ mol$^{-1}$)", fontsize=16.5,
         ha="center", va="center")

fig.savefig("out.png", dpi=100)
